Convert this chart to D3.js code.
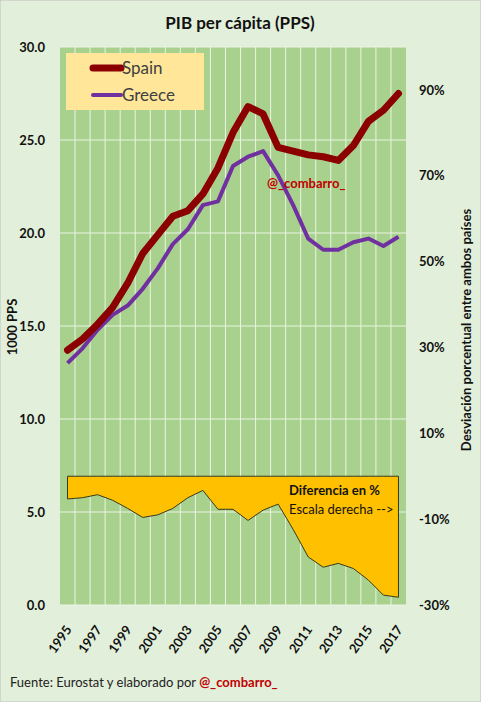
<!DOCTYPE html>
<meta charset="utf-8">
<style>
    body { margin: 0; }
    text { font-family: Lato, "Open Sans", sans-serif; }
    .tick text { font-weight: bold; font-size: 13px; fill: #111; }
</style>
<svg width="481" height="702"></svg>
<script src="https://cdn.jsdelivr.net/npm/d3@7"></script>
<script>
    // data
    var years = d3.range(1995, 2018);
    var spain = [13.7, 14.3, 15.1, 16.0, 17.3, 18.9, 19.9, 20.9, 21.2, 22.1, 23.5, 25.4,
                 26.8, 26.4, 24.6, 24.4, 24.2, 24.1, 23.9, 24.7, 26.0, 26.6, 27.5];
    var greece = [13.0, 13.8, 14.8, 15.6, 16.1, 17.0, 18.1, 19.4, 20.2, 21.5, 21.7, 23.6,
                  24.1, 24.4, 23.1, 21.5, 19.7, 19.1, 19.1, 19.5, 19.7, 19.3, 19.8];
    var diffPct = [-5.3, -5.0, -4.3, -5.6, -7.5, -9.6, -9.0, -7.5, -5.0, -3.3, -7.7, -7.7,
                   -10.3, -7.9, -6.5, -12.4, -18.8, -21.2, -20.3, -21.5, -24.2, -27.7, -28.2];
    var leftTicks = [0, 5, 10, 15, 20, 25, 30];
    var rightTicks = [-30, -10, 10, 30, 50, 70, 90];
    var labelYears = years.filter(function (y) { return (y - 1995) % 2 == 0; });

    var svg = d3.select("svg"),
        width = +svg.attr("width"),
        height = +svg.attr("height");
    var pLeft = 60, pRight = 406, pTop = 47, pBottom = 605;

    svg.append("rect").attr("width", width).attr("height", height)
        .attr("fill", "#E2EFDA").attr("stroke", "#BFBFBF");

    var x = d3.scaleBand().domain(years).range([pLeft, pRight]);
    var cx = function (i) { return x(years[i]) + x.bandwidth() / 2; };
    var yL = d3.scaleLinear().domain([0, 30]).range([pBottom, pTop]);
    var yR = d3.scaleLinear().domain([-30, 100]).range([pBottom, pTop]);

    svg.append("rect").attr("x", pLeft).attr("y", pTop)
        .attr("width", pRight - pLeft).attr("height", pBottom - pTop)
        .attr("fill", "#A9D18E");

    // grid
    svg.append("g").selectAll("line").data(years.slice(1))
        .enter().append("line")
        .attr("x1", function (d) { return x(d); }).attr("x2", function (d) { return x(d); })
        .attr("y1", pTop).attr("y2", pBottom)
        .attr("stroke", "#EAF3E3").attr("stroke-width", 1);
    svg.append("g").selectAll("line").data(leftTicks)
        .enter().append("line")
        .attr("x1", pLeft).attr("x2", pRight)
        .attr("y1", function (d) { return yL(d); }).attr("y2", function (d) { return yL(d); })
        .attr("stroke", "#EAF3E3").attr("stroke-width", 1);

    // difference area (right scale)
    var area = d3.area()
        .x(function (d, i) { return cx(i); })
        .y0(yR(0))
        .y1(function (d) { return yR(d); });
    svg.append("path")
        .attr("d", area(diffPct) + "Z")
        .attr("fill", "#FFC000")
        .attr("stroke", "#3A3A1A").attr("stroke-width", 1);

    // lines
    var line = d3.line().x(function (d, i) { return cx(i); }).y(function (d) { return yL(d); });
    svg.append("path").datum(greece).attr("d", line)
        .attr("fill", "none").attr("stroke", "#7030A0").attr("stroke-width", 4)
        .attr("stroke-linejoin", "round");
    svg.append("path").datum(spain).attr("d", line)
        .attr("fill", "none").attr("stroke", "#8B0000").attr("stroke-width", 7)
        .attr("stroke-linejoin", "round").attr("stroke-linecap", "round");

    // axes
    var gl = svg.append("g").attr("transform", "translate(" + (pLeft - 12) + ",0)")
        .call(d3.axisLeft(yL).tickValues(leftTicks).tickSize(0).tickFormat(d3.format(".1f")));
    gl.select(".domain").remove();
    var gr = svg.append("g").attr("transform", "translate(" + (pRight + 13) + ",0)")
        .call(d3.axisRight(yR).tickValues(rightTicks).tickSize(0).tickFormat(function (d) { return d + "%"; }));
    gr.select(".domain").remove();
    gr.selectAll("text").attr("x", 0);

    var gx = svg.append("g").attr("transform", "translate(0," + pBottom + ")")
        .call(d3.axisBottom(x).tickValues(labelYears).tickSize(0));
    gx.select(".domain").remove();
    gx.selectAll("text")
        .attr("font-size", "15px")
        .style("text-anchor", "end")
        .attr("x", 0).attr("y", 0)
        .attr("dy", "0.35em")
        .attr("transform", "translate(1,22) rotate(-55)");

    // axis titles
    svg.append("text").attr("transform", "translate(17,327) rotate(-90)")
        .attr("text-anchor", "middle").attr("font-size", "13px").attr("font-weight", "bold")
        .attr("fill", "#111").text("1000 PPS");
    svg.append("text").attr("transform", "translate(471,330) rotate(-90)")
        .attr("text-anchor", "middle").attr("font-size", "13px").attr("font-weight", "bold")
        .attr("fill", "#111").text("Desviación porcentual entre ambos países");

    // title
    svg.append("text").attr("x", 240).attr("y", 29)
        .attr("text-anchor", "middle").attr("font-size", "17px").attr("font-weight", "bold")
        .attr("fill", "#111").text("PIB per cápita (PPS)");

    // legend
    var lg = svg.append("g");
    lg.append("rect").attr("x", 66).attr("y", 53).attr("width", 138).attr("height", 57)
        .attr("fill", "#FFE699");
    var items = [{ name: "Spain", color: "#8B0000", w: 7, y: 68 },
                 { name: "Greece", color: "#7030A0", w: 4, y: 95 }];
    items.forEach(function (it) {
        lg.append("line").attr("x1", 93).attr("x2", 121).attr("y1", it.y).attr("y2", it.y)
            .attr("stroke", it.color).attr("stroke-width", it.w).attr("stroke-linecap", "round");
        lg.append("text").attr("x", 122).attr("y", it.y + 6)
            .attr("font-size", "17px").attr("fill", "#404040").text(it.name);
    });

    // annotations
    svg.append("text").attr("x", 267).attr("y", 188)
        .attr("font-size", "13px").attr("font-weight", "bold").attr("fill", "#C00000")
        .text("@_combarro_");
    svg.append("text").attr("x", 289).attr("y", 495)
        .attr("font-size", "13px").attr("font-weight", "bold").attr("fill", "#111")
        .text("Diferencia en %");
    svg.append("text").attr("x", 289).attr("y", 514)
        .attr("font-size", "13px").attr("fill", "#111")
        .text("Escala derecha -->");

    // source
    var src = svg.append("text").attr("x", 10).attr("y", 687).attr("font-size", "13px").attr("fill", "#222");
    src.append("tspan").text("Fuente: Eurostat y elaborado por ");
    src.append("tspan").attr("font-weight", "bold").attr("fill", "#C00000").text("@_combarro_");
</script>
